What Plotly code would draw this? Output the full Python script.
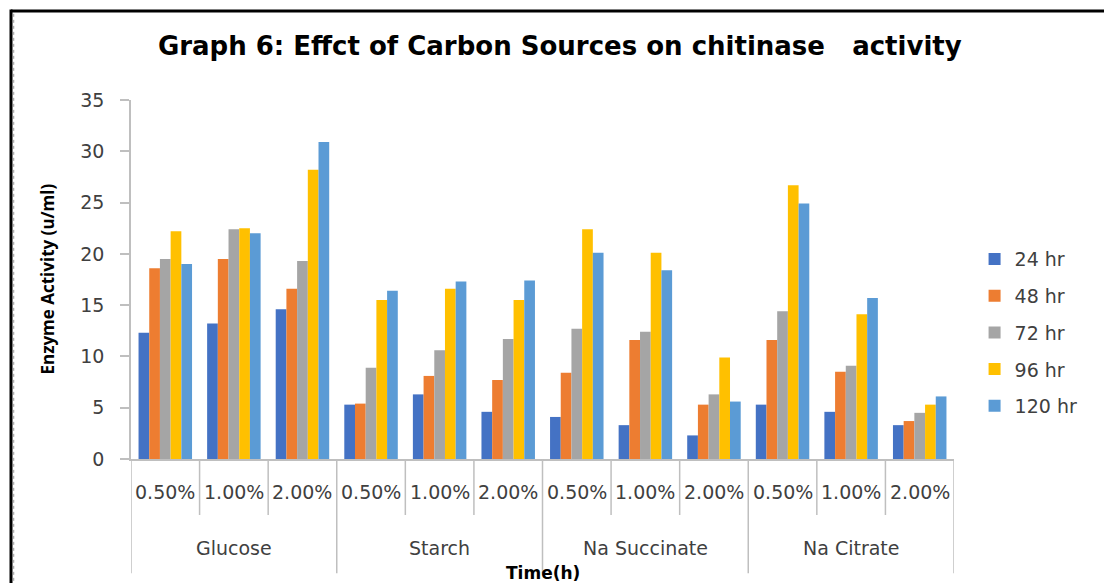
import plotly.graph_objects as go

# Carbon sources and their concentrations (x axis, two levels)
sources = ["Glucose", "Starch", "Na Succinate", "Na Citrate"]
concentrations = ["0.50%", "1.00%", "2.00%"]

# Incubation times (legend)
times = ["24 hr", "48 hr", "72 hr", "96 hr", "120 hr"]

# Chitinase activity (u/ml), one list per incubation time, in the order
# Glucose 0.5/1/2, Starch 0.5/1/2, Na Succinate 0.5/1/2, Na Citrate 0.5/1/2
act_24 = [12.3, 13.2, 14.6, 5.3, 6.3, 4.6, 4.1, 3.3, 2.3, 5.3, 4.6, 3.3]
act_48 = [18.6, 19.5, 16.6, 5.4, 8.1, 7.7, 8.4, 11.6, 5.3, 11.6, 8.5, 3.7]
act_72 = [19.5, 22.4, 19.3, 8.9, 10.6, 11.7, 12.7, 12.4, 6.3, 14.4, 9.1, 4.5]
act_96 = [22.2, 22.5, 28.2, 15.5, 16.6, 15.5, 22.4, 20.1, 9.9, 26.7, 14.1, 5.3]
act_120 = [19.0, 22.0, 30.9, 16.4, 17.3, 17.4, 20.1, 18.4, 5.6, 24.9, 15.7, 6.1]

series = [act_24, act_48, act_72, act_96, act_120]
colors = ["#4472C4", "#ED7D31", "#A5A5A5", "#FFC000", "#5B9BD5"]

FONT = "DejaVu Sans"
AXIS_GREY = "#BFBFBF"
TEXT_GREY = "#404040"

sub_labels = [c for _ in sources for c in concentrations]
xpos = list(range(len(sub_labels)))

fig = go.Figure()
for name, vals, col in zip(times, series, colors):
    fig.add_trace(go.Bar(
        x=xpos, y=vals, name=name, legendgroup=name,
        marker=dict(color=col, line=dict(width=0)),
    ))

shapes = []
annotations = []

# Dividers under the axis: short ones between concentrations,
# long ones between carbon sources
n_sub = len(concentrations)
for i in range(len(sub_labels) + 1):
    group_edge = (i % n_sub == 0)
    shapes.append(dict(
        type="line", xref="x", yref="paper",
        x0=i - 0.5, x1=i - 0.5, y0=0, y1=-0.318 if group_edge else -0.156,
        line=dict(color=AXIS_GREY, width=1.5),
    ))

# Concentration labels
for i, lab in enumerate(sub_labels):
    annotations.append(dict(
        x=i, y=-0.092, xref="x", yref="paper", text=lab, showarrow=False,
        xanchor="center", yanchor="middle",
        font=dict(family=FONT, size=19, color=TEXT_GREY),
    ))

# Carbon source labels
for g, src in enumerate(sources):
    annotations.append(dict(
        x=g * n_sub + (n_sub - 1) / 2, y=-0.248, xref="x", yref="paper",
        text=src, showarrow=False, xanchor="center", yanchor="middle",
        font=dict(family=FONT, size=19, color=TEXT_GREY),
    ))

# Axis titles
annotations.append(dict(
    x=0.5, y=-0.318, xref="paper", yref="paper", text="<b>Time(h)</b>",
    showarrow=False, xanchor="center", yanchor="middle",
    font=dict(family=FONT, size=17, color="#000000"),
))
annotations.append(dict(
    x=-0.102, y=0.5, xref="paper", yref="paper",
    text="<b>Enzyme Activity (u/ml)</b>", textangle=-90,
    showarrow=False, xanchor="center", yanchor="middle",
    font=dict(family="Open Sans", size=17, color="#000000"),
))

# Frame around the chart (top and left edges)
shapes.append(dict(type="line", xref="paper", yref="paper",
                   x0=-0.1458, x1=1.2, y0=1.248, y1=1.248,
                   line=dict(color="#000000", width=3)))
shapes.append(dict(type="line", xref="paper", yref="paper",
                   x0=-0.1458, x1=-0.1458, y0=1.252, y1=-0.4,
                   line=dict(color="#000000", width=3)))
shapes.append(dict(type="line", xref="paper", yref="paper",
                   x0=-0.1425, x1=-0.1425, y0=1.24, y1=-0.4,
                   line=dict(color="#9A9A9A", width=1, dash="dot")))

fig.update_layout(
    width=1104, height=583,
    margin=dict(l=131, r=150, t=100, b=124),
    paper_bgcolor="white", plot_bgcolor="white",
    barmode="group", bargap=0.22, bargroupgap=0,
    title=dict(
        text="<b>Graph 6: Effct of Carbon Sources on chitinase \u00a0\u00a0activity</b>",
        x=0.521, xref="paper", xanchor="center", y=0.922, yanchor="middle",
        font=dict(family=FONT, size=26, color="#000000"),
    ),
    xaxis=dict(
        range=[-0.5, len(sub_labels) - 0.5], showticklabels=False,
        showline=True, linecolor=AXIS_GREY, linewidth=1.5,
        ticks="", showgrid=False, zeroline=False, fixedrange=True,
    ),
    yaxis=dict(
        range=[0, 35], dtick=5, showgrid=False, zeroline=False,
        showline=True, linecolor=AXIS_GREY, linewidth=1.5,
        ticks="outside", ticklen=9, tickcolor=AXIS_GREY, tickwidth=1.5,
        ticklabelstandoff=12,
        tickfont=dict(family=FONT, size=19, color=TEXT_GREY),
    ),
    legend=dict(
        x=1.025, xanchor="left", y=0.352, yanchor="middle",
        font=dict(family=FONT, size=19, color=TEXT_GREY),
        tracegroupgap=9, itemclick=False, bgcolor="rgba(0,0,0,0)",
    ),
    shapes=shapes, annotations=annotations,
    showlegend=True,
)

fig.write_html("out.html")
